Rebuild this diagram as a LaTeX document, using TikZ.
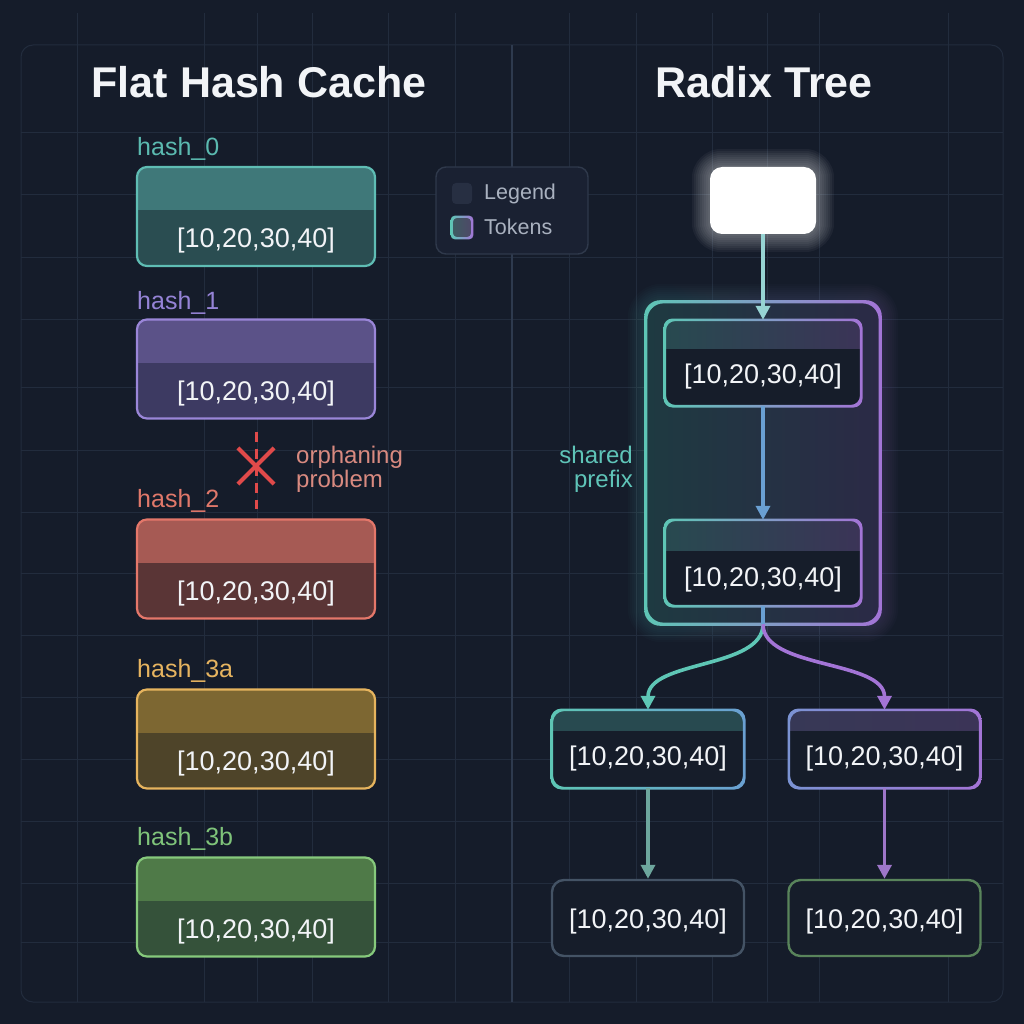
\documentclass[tikz,border=0pt]{standalone}
\usepackage{fontspec}
\setmainfont{Liberation Sans}
\usetikzlibrary{arrows.meta,shapes.misc,calc}
\pgfdeclarelayer{back}
\pgfdeclarelayer{glowl}
\pgfsetlayers{back,glowl,main}

\definecolor{bg}{HTML}{151C2A}
\definecolor{gridc}{HTML}{222C3D}
\definecolor{divc}{HTML}{2E3A4E}
\definecolor{titlec}{HTML}{F2F4F7}
\definecolor{tokc}{HTML}{F2F4F7}
% left boxes
\definecolor{c0b}{HTML}{5FBDB4}\definecolor{c0h}{HTML}{3F7879}\definecolor{c0f}{HTML}{2A4D51}
\definecolor{c1b}{HTML}{9A86D8}\definecolor{c1h}{HTML}{5B5288}\definecolor{c1f}{HTML}{3D3A62}
\definecolor{c2b}{HTML}{E4776A}\definecolor{c2h}{HTML}{A65A54}\definecolor{c2f}{HTML}{5A3536}
\definecolor{c3b}{HTML}{E6B45E}\definecolor{c3h}{HTML}{7D6732}\definecolor{c3f}{HTML}{4E4429}
\definecolor{c4b}{HTML}{86C97C}\definecolor{c4h}{HTML}{4F7A48}\definecolor{c4f}{HTML}{35523A}
\definecolor{l0}{HTML}{5BBAB0}\definecolor{l1}{HTML}{9583D6}\definecolor{l2}{HTML}{E0786A}
\definecolor{l3}{HTML}{E6B460}\definecolor{l4}{HTML}{7FC47A}
\definecolor{xred}{HTML}{E04A4A}
\definecolor{orph}{HTML}{D98A80}
% tree
\definecolor{teal}{HTML}{5EC6B5}
\definecolor{purp}{HTML}{A374D6}
\definecolor{bluec}{HTML}{6AA0D2}
\definecolor{nodebg}{HTML}{161D2A}
\definecolor{hdrT}{HTML}{284A50}
\definecolor{hdrP}{HTML}{3B3457}
\definecolor{spL}{HTML}{1E3A41}
\definecolor{spR}{HTML}{2B2A46}
\definecolor{sharedc}{HTML}{5FC4B8}
\definecolor{leggray}{HTML}{A9B1BF}
\definecolor{legfill}{HTML}{1A2132}
\definecolor{legline}{HTML}{2F394B}
\definecolor{sw1c}{HTML}{272F42}

\newcommand\lowtxt[2]{\smash{\raisebox{-#1}{#2}}}
\newcommand\ringshade[5]{% name, left, right, radius, half width
  \shade[left color=#2, right color=#3, even odd rule, rounded corners=#4]
    ([shift={(-#5,#5)}]#1.north west) rectangle ([shift={(#5,-#5)}]#1.south east)
    ([shift={(#5,-#5)}]#1.north west) rectangle ([shift={(-#5,#5)}]#1.south east);}
\newcommand\glowbox[5]{% name, left, right, radius, opacity
  \begin{pgfonlayer}{glowl}
  \foreach \k in {2,4,...,18}{%
    \pgfmathsetmacro\rr{#4+\k}%
    \shade[left color=#2, right color=#3, fill opacity=#5, even odd rule, rounded corners=\rr pt]
      ([shift={(-\k pt,\k pt)}]#1.north west) rectangle ([shift={(\k pt,-\k pt)}]#1.south east)
      (#1.north west) rectangle (#1.south east);}
  \end{pgfonlayer}}

\begin{document}
\begin{tikzpicture}[x=1pt,y=-1pt,
  title/.style={anchor=base, text=titlec, font=\bfseries\fontsize{43}{48}\selectfont, inner sep=0pt},
  lab/.style={anchor=base west, font=\fontsize{25}{28}\selectfont, inner sep=0pt},
  lbox/.style n args={3}{rectangle, rounded corners=10pt, minimum width=238pt, minimum height=99pt,
    draw=#1, line width=2.2pt, fill=#3, text=tokc, inner sep=0pt,
    font=\fontsize{27}{30}\selectfont,
    path picture={\fill[#2, sharp corners] (path picture bounding box.north west) rectangle ([yshift=-43pt]path picture bounding box.north east);}},
  tnode/.style n args={5}{rectangle, rounded corners=9pt, minimum width=#1, minimum height=#2,
    fill=nodebg, text=tokc, inner sep=0pt, font=\fontsize{27}{30}\selectfont,
    path picture={\shade[left color=#4, right color=#5, sharp corners] (path picture bounding box.north west) rectangle ([yshift=-#3]path picture bounding box.north east);}},
  leafnode/.style={rectangle, rounded corners=12pt, minimum width=192pt, minimum height=76pt,
    fill=nodebg, draw=#1, line width=2.4pt, text=tokc, inner sep=0pt, font=\fontsize{27}{30}\selectfont},
  arr/.style={line width=3.6pt, -{Triangle[length=14pt,width=14pt]}},
  small/.style={font=\fontsize{24}{24}\selectfont, inner sep=0pt},
]
\useasboundingbox (0,0) rectangle (1024,1024);

% ---------- background and grid ----------
\begin{pgfonlayer}{back}
  \fill[bg] (0,0) rectangle (1024,1024);
  \foreach \x in {77,204,257,312,388,455,569,636,712,767,819,948}
    \draw[gridc, line width=1pt] (\x,13) -- (\x,1002);
  \foreach \y in {133,195,257,319,387,450,512,573,635,697,759,821,883,942}
    \draw[gridc, line width=1pt] (21,\y) -- (1003,\y);
  \draw[gridc, line width=1pt, rounded corners=12pt] (21,45) rectangle (1003,1002);
  \draw[divc, line width=1.6pt] (512,45) -- (512,1002);
\end{pgfonlayer}

% ---------- titles ----------
\node[title] (tflat) at (259,98) {Flat Hash Cache};
\node[title] (tradix) at (764,98) {Radix Tree};

% ---------- flat hash cache ----------
\node[lab, text=l0] (lab0) at (137,156) {hash\_0};
\node[lbox={c0b}{c0h}{c0f}] (h0) at (256,216.5) {\lowtxt{31pt}{[10,20,30,40]}};

\node[lab, text=l1] (lab1) at (137,309) {hash\_1};
\node[lbox={c1b}{c1h}{c1f}] (h1) at (256,369) {\lowtxt{31pt}{[10,20,30,40]}};

\node[lab, text=l2] (lab2) at (137,507) {hash\_2};
\node[lbox={c2b}{c2h}{c2f}] (h2) at (256,569) {\lowtxt{31pt}{[10,20,30,40]}};

\node[lab, text=l3] (lab3) at (137,677) {hash\_3a};
\node[lbox={c3b}{c3h}{c3f}] (h3a) at (256,739) {\lowtxt{31pt}{[10,20,30,40]}};

\node[lab, text=l4] (lab4) at (137,845) {hash\_3b};
\node[lbox={c4b}{c4h}{c4f}] (h3b) at (256,907) {\lowtxt{31pt}{[10,20,30,40]}};

\draw[xred, line width=3pt, dash pattern=on 10pt off 7pt] ([yshift=-12pt]h1.south) -- ([yshift=9pt]h2.north);
\node[cross out, draw=xred, line width=4.2pt, minimum width=32pt, minimum height=32pt, inner sep=0pt] (xm) at (256,466) {};
\node[small, anchor=west, align=left, text=orph] (orphan) at (296,469) {orphaning\\problem};

% ---------- legend ----------
\node[rectangle, rounded corners=10pt, minimum width=152pt, minimum height=87pt, fill=legfill, draw=legline, line width=1.4pt] (leg) at (512,210.5) {};
\node[rectangle, rounded corners=4pt, minimum width=20pt, minimum height=21pt, inner sep=0pt, fill=sw1c] (sw1) at (462,193.5) {};
\node[rectangle, rounded corners=4pt, minimum width=20pt, minimum height=21pt, inner sep=0pt, left color=hdrT!90!white, right color=hdrP!90!white] (sw2) at (462,227.5) {};
\ringshade{sw2}{teal}{purp}{4pt}{1.1pt}
\node[anchor=west, text=leggray, font=\fontsize{21.5}{24}\selectfont, inner sep=0pt] (legt1) at (484,194) {Legend};
\node[anchor=west, text=leggray, font=\fontsize{21.5}{24}\selectfont, inner sep=0pt] (legt2) at (484,227) {Tokens};

% ---------- radix tree ----------
\node[rectangle, rounded corners=12pt, minimum width=106pt, minimum height=67pt, fill=white, inner sep=0pt] (root) at (763,200.5) {};
\glowbox{root}{white}{white}{12}{0.045}

\node[rectangle, rounded corners=16pt, minimum width=234pt, minimum height=322pt, left color=spL, right color=spR, inner sep=0pt] (sp) at (763,463) {};
\glowbox{sp}{teal}{purp}{16}{0.022}
\ringshade{sp}{teal}{purp}{16pt}{1.6pt}

\node[tnode={196pt}{86pt}{28pt}{hdrT}{hdrP}] (n1) at (763,363) {\lowtxt{20pt}{[10,20,30,40]}};
\ringshade{n1}{teal}{purp}{9pt}{1.3pt}
\node[tnode={196pt}{86pt}{30pt}{hdrT}{hdrP}] (n2) at (763,563) {\lowtxt{23pt}{[10,20,30,40]}};
\ringshade{n2}{teal}{purp}{9pt}{1.3pt}

\node[small, anchor=east, align=right, text=sharedc] (sptxt) at (633,469) {shared\\prefix};

\node[tnode={192pt}{78pt}{20pt}{hdrT}{hdrT}] (l1) at (648,749) {\lowtxt{16pt}{[10,20,30,40]}};
\ringshade{l1}{teal}{bluec}{11pt}{1.3pt}
\node[tnode={191pt}{78pt}{20pt}{hdrP!80!hdrT}{hdrP}] (r1) at (884.5,749) {\lowtxt{16pt}{[10,20,30,40]}};
\ringshade{r1}{bluec!70!purp}{purp}{11pt}{1.3pt}

\node[leafnode=gray!60!bluec!40!gridc] (l2) at (648,918) {\lowtxt{10pt}{[10,20,30,40]}};
\node[leafnode={c4b!60!nodebg}] (r2) at (884.5,918) {\lowtxt{10pt}{[10,20,30,40]}};

% connectors
\draw[arr, color=teal!60!white!85!bluec] (root.south) -- (n1.north);
\draw[arr, color=bluec] (n1.south) -- (n2.north);
\coordinate (split) at ([yshift=-18pt]n2.south);
\draw[line width=3.6pt, bluec] (n2.south) -- (split);
\draw[arr, color=teal] (split) .. controls +(0,45) and +(0,-50) .. (l1.north);
\draw[arr, color=purp] (split) .. controls +(0,45) and +(0,-50) .. (r1.north);
\draw[arr, color=teal!55!gray] (l1.south) -- (l2.north);
\draw[arr, color=purp!85!gray] (r1.south) -- (r2.north);
\end{tikzpicture}
\end{document}
